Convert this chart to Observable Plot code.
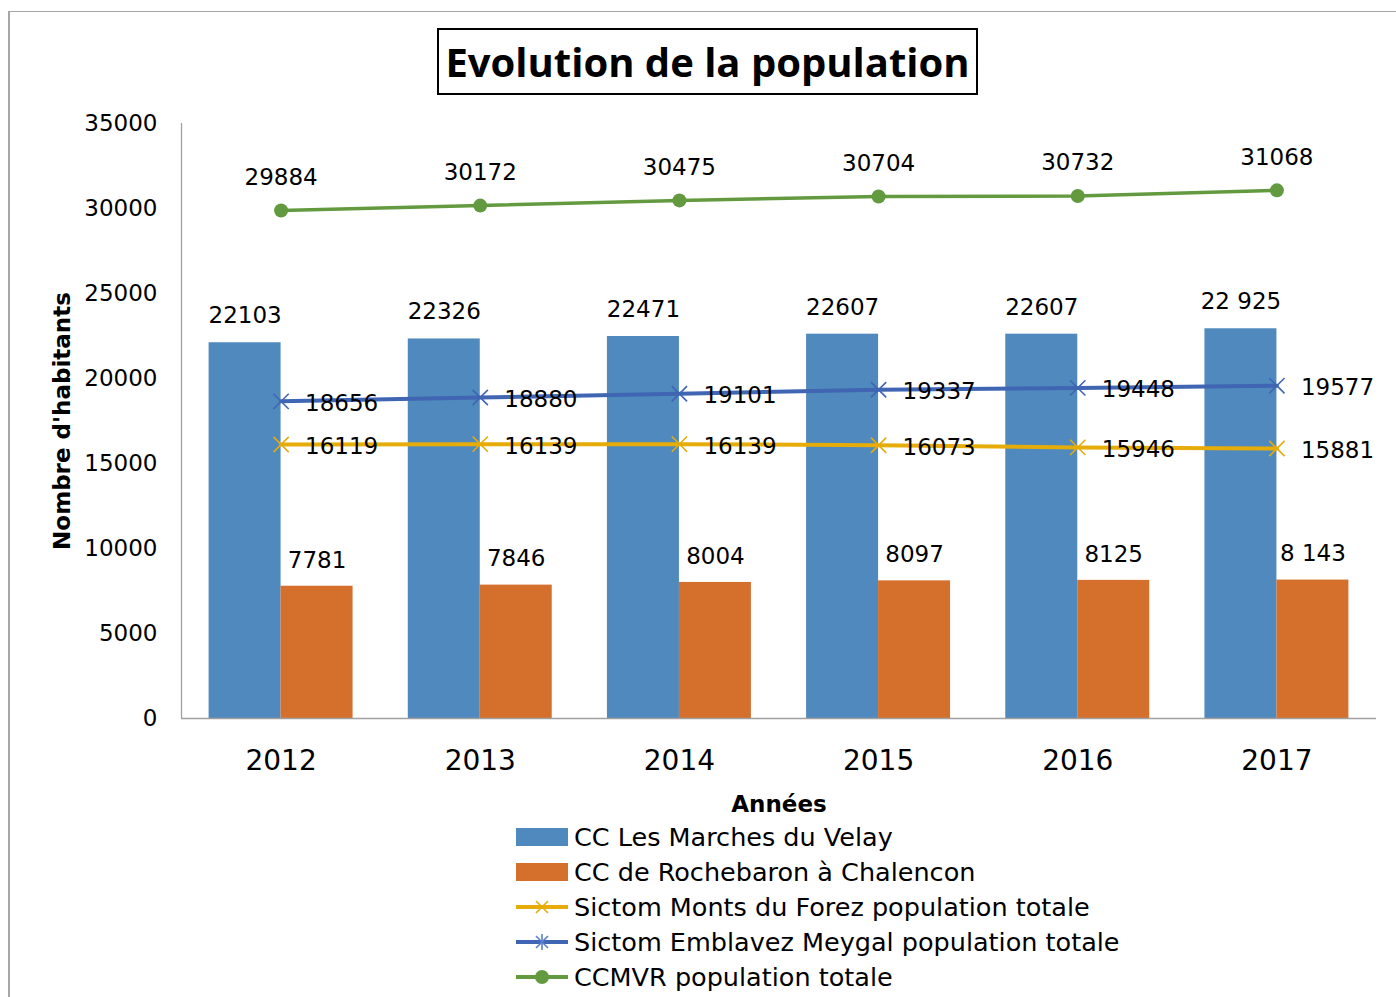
<!DOCTYPE html>
<html>
<head>
<meta charset="utf-8">
<script src="https://cdn.jsdelivr.net/npm/d3@7"></script>
<script src="https://cdn.jsdelivr.net/npm/@observablehq/plot@0.6"></script>
<style>
  html, body { margin: 0; padding: 0; background: #fff; overflow: hidden; width: 1396px; height: 997px; }
  #frame { position: absolute; left: 8px; top: 11px; width: 1420px; height: 1020px;
           border-left: 2px solid #a6a6a6; border-top: 1px solid #a6a6a6; }
  #title { position: absolute; left: 437px; top: 28px; width: 537px; height: 63px;
           border: 2px solid #000; box-sizing: content-box;
           font-family: "Open Sans", sans-serif; font-weight: bold; font-size: 40px;
           display: flex; align-items: center; justify-content: center; color: #000; }
  #chart { position: absolute; left: 0; top: 100px; }
  #chart svg { font-family: "DejaVu Sans", sans-serif; }
  g[aria-label="y-axis label"] text, g[aria-label="x-axis label"] text { font-weight: bold; font-size: 23px; }
  #legend { position: absolute; left: 516px; top: 819px; font-family: "DejaVu Sans", sans-serif;
            font-size: 25.5px; color: #000; }
  .item { height: 35px; display: flex; align-items: center; }
  .item svg { margin-right: 4px; }
</style>
</head>
<body>
<div id="frame"></div>
<div id="title">Evolution de la population</div>
<div id="chart"></div>
<div id="legend"></div>
<script>
const years = [2012, 2013, 2014, 2015, 2016, 2017];
const velay = [22103, 22326, 22471, 22607, 22607, 22925];
const velayLabels = ["22103", "22326", "22471", "22607", "22607", "22 925"];
const rochebaron = [7781, 7846, 8004, 8097, 8125, 8143];
const rochebaronLabels = ["7781", "7846", "8004", "8097", "8125", "8 143"];
const forez = [16119, 16139, 16139, 16073, 15946, 15881];
const emblavez = [18656, 18880, 19101, 19337, 19448, 19577];
const ccmvr = [29884, 30172, 30475, 30704, 30732, 31068];
const yTicks = [0, 5000, 10000, 15000, 20000, 25000, 30000, 35000];

const seriesNames = ["CC Les Marches du Velay", "CC de Rochebaron à Chalencon",
  "Sictom Monts du Forez population totale", "Sictom Emblavez Meygal population totale",
  "CCMVR population totale"];
const colors = {blue: "#4f89bd", orange: "#d46f2c", yellow: "#e5ac0a", navy: "#3f65b3", green: "#639a3f"};

const half = 0.3614; // half of a group, in years
const rows = years.map((y, i) => ({
  year: y, velay: velay[i], velayL: velayLabels[i], roche: rochebaron[i], rocheL: rochebaronLabels[i],
  forez: forez[i], emblavez: emblavez[i], ccmvr: ccmvr[i]
}));

const chart = Plot.plot({
  width: 1396,
  height: 720,
  marginLeft: 181,
  marginRight: 20,
  marginTop: 23,
  marginBottom: 102,
  x: {type: "linear", domain: [2011.5, 2017.5]},
  y: {domain: [0, 35000]},
  marks: [
    Plot.rectY(rows, {x1: d => d.year - half, x2: d => d.year, y: "velay", fill: colors.blue}),
    Plot.rectY(rows, {x1: d => d.year, x2: d => d.year + half, y: "roche", fill: colors.orange}),
    Plot.ruleX([2011.5], {y1: 0, y2: 35000, stroke: "#a0a0a0", strokeWidth: 1.3}),
    Plot.ruleY([0], {stroke: "#a0a0a0", strokeWidth: 1.5}),
    Plot.axisY({ticks: yTicks, tickSize: 0, tickPadding: 24, fontSize: 23, tickFormat: d => String(d),
      label: "Nombre d'habitants", labelAnchor: "center", labelOffset: 128, labelArrow: "none"}),
    Plot.axisX({ticks: years, tickSize: 0, tickPadding: 32, fontSize: 28, tickFormat: d => String(d),
      label: "Années", labelAnchor: "center", labelOffset: 93, labelArrow: "none"}),
    Plot.line(rows, {x: "year", y: "forez", stroke: colors.yellow, strokeWidth: 4}),
    Plot.dot(rows, {x: "year", y: "forez", symbol: "times", r: 7, stroke: colors.yellow, strokeWidth: 1.6}),
    Plot.line(rows, {x: "year", y: "emblavez", stroke: colors.navy, strokeWidth: 4}),
    Plot.dot(rows, {x: "year", y: "emblavez", symbol: "times", r: 7, stroke: colors.navy, strokeWidth: 1.6}),
    Plot.line(rows, {x: "year", y: "ccmvr", stroke: colors.green, strokeWidth: 3.5}),
    Plot.dot(rows, {x: "year", y: "ccmvr", r: 7, fill: colors.green}),
    Plot.text(rows, {x: d => d.year - half / 2, y: "velay", text: "velayL", dy: -27, fontSize: 23, fill: "#000"}),
    Plot.text(rows, {x: d => d.year + half / 2, y: "roche", text: "rocheL", dy: -26, fontSize: 23, fill: "#000"}),
    Plot.text(rows, {x: "year", y: "ccmvr", text: d => String(d.ccmvr), dy: -33, fontSize: 23, fill: "#000"}),
    Plot.text(rows, {x: "year", y: "emblavez", text: d => String(d.emblavez), dx: 24, dy: 2, textAnchor: "start", fontSize: 23, fill: "#000"}),
    Plot.text(rows, {x: "year", y: "forez", text: d => String(d.forez), dx: 24, dy: 2, textAnchor: "start", fontSize: 23, fill: "#000"})
  ]
});
document.getElementById("chart").appendChild(chart);

// Legend
const legend = document.getElementById("legend");
const swatches = [
  `<rect x="0" y="8" width="52" height="18" fill="${colors.blue}"/>`,
  `<rect x="0" y="8" width="52" height="18" fill="${colors.orange}"/>`,
  `<line x1="0" y1="17" x2="52" y2="17" stroke="${colors.yellow}" stroke-width="4"/><path d="M20 11 L32 23 M32 11 L20 23" stroke="${colors.yellow}" stroke-width="1.6"/>`,
  `<line x1="0" y1="17" x2="52" y2="17" stroke="${colors.navy}" stroke-width="4"/><path d="M20 11 L32 23 M32 11 L20 23 M26 9 L26 25" stroke="#5a7fd0" stroke-width="1.6"/>`,
  `<line x1="0" y1="17" x2="52" y2="17" stroke="${colors.green}" stroke-width="4"/><circle cx="26" cy="17" r="7" fill="${colors.green}"/>`
];
seriesNames.forEach((name, i) => {
  const div = document.createElement("div");
  div.className = "item";
  div.innerHTML = `<svg width="54" height="34">${swatches[i]}</svg><span>${name}</span>`;
  legend.appendChild(div);
});
</script>
</body>
</html>
